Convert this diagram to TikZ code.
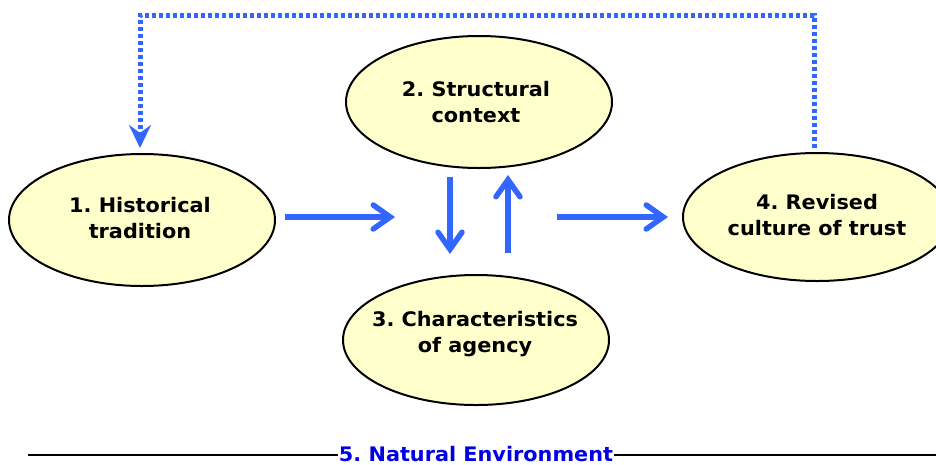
\documentclass[tikz,border=0pt]{standalone}
\usepackage{fontspec}
\setmainfont{DejaVu Sans}[BoldFont={DejaVu Sans Bold},FakeStretch=1.04]
\usetikzlibrary{arrows.meta}
\frenchspacing
\definecolor{ellfill}{RGB}{255,255,204}
\definecolor{arrblue}{RGB}{51,102,255}
\definecolor{txtblue}{RGB}{0,0,230}
\tikzset{
  ellline/.style={draw=black, line width=2pt, fill=ellfill},
  elltext/.style={font=\bfseries\fontsize{20}{26}\selectfont, align=center},
  flow/.style={draw=arrblue, line width=5.5pt, -{Straight Barb[length=17pt,width=24pt,line cap=round]}},
  feedback/.style={draw=arrblue, line width=5pt, dash pattern=on 4pt off 3pt,
     -{Stealth[length=23pt,width=22pt,inset=8pt]}},
}
\begin{document}
\begin{tikzpicture}[x=1pt,y=-1pt]
\clip (0,0) rectangle (936,464);
\fill[white] (0,0) rectangle (936,464);
% ellipses
\draw[ellline] (142,220) ellipse [x radius=133, y radius=66];
\draw[ellline] (479,102) ellipse [x radius=133, y radius=66];
\draw[ellline] (476,340) ellipse [x radius=133, y radius=65];
\draw[ellline] (817,217) ellipse [x radius=134, y radius=64];
\node[elltext] (n1) at (140,218.5) {1. Historical\\tradition};
\node[elltext] (n2) at (476,102.5) {2. Structural\\context};
\node[elltext] (n3) at (475,334.5) {3. Characteristics\\of agency};
\node[elltext] (n4) at (817,215.5) {4. Revised\\culture of trust};
% coordinates for arrows
\coordinate (a1s) at (285,217); \coordinate (a1e) at (395,217);
\coordinate (a2s) at (557,217); \coordinate (a2e) at (668,217);
\coordinate (dns) at (450,177); \coordinate (dne) at (450,254);
\coordinate (ups) at (508,253); \coordinate (upe) at (508,175);
\draw[flow] (a1s) -- (a1e);
\draw[flow] (a2s) -- (a2e);
\draw[flow] (dns) -- (dne);
\draw[flow] (ups) -- (upe);
% feedback
\coordinate (fbs) at (814,148);
\coordinate (fbe) at (140,148);
\draw[feedback] (fbs) -- (814,15) -- (140,15) -- (fbe);
% natural environment
\node[font=\bfseries\fontsize{20}{22}\selectfont, text=txtblue, inner sep=0pt,
      anchor=base, text depth=0pt] (env) at (476,461) {5. Natural Environment};
\coordinate (envl) at (28,455);
\coordinate (envr) at (936,455);
\draw[line width=2pt] (envl) -- ([xshift=-1pt]env.west |- envl);
\draw[line width=2pt] ([xshift=1pt]env.east |- envr) -- (envr);
\end{tikzpicture}
\end{document}
